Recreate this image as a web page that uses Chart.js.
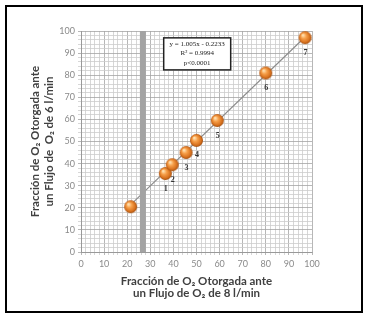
<!DOCTYPE html>
<html>
<head>
<meta charset="utf-8">
<script src="https://cdn.jsdelivr.net/npm/chart.js@4"></script>
<style>
  body { margin: 0; background: #fff; }
  #wrap { position: relative; width: 369px; height: 320px; }
  #frame { position: absolute; left: 5px; top: 5px; width: 358px; height: 308px; border: 2px solid #000; box-sizing: border-box; pointer-events: none; }
</style>
</head>
<body>
<div id="wrap">
  <canvas id="chart" width="369" height="320"></canvas>
  <div id="frame"></div>
</div>
<script>
// measured points (8 l/min vs 6 l/min)
const pointX = [21.5, 36.5, 39.5, 45.5, 50, 59, 80, 97];
const pointY = [20.5, 35.5, 39.5, 45, 50.5, 59.5, 81, 97];
const pointLabels = ['', '1', '2', '3', '4', '5', '6', '7'];

// fitted line y = 1.005x - 0.2233, end points
const trendX = [21, 98];
const trendY = [20.9, 98.3];

// grey vertical band
const bandX = [26.8, 26.8];
const bandY = [0, 100];

const statLines = ['y = 1.005x - 0.2233', 'R\u00B2 = 0.9994', 'p<0.0001'];

// orange sphere marker
function makeSphere(r) {
    const c = document.createElement('canvas');
    c.width = c.height = Math.ceil(r * 2 + 2);
    const g = c.getContext('2d');
    const cx = c.width / 2, cy = c.height / 2;
    const grad = g.createRadialGradient(cx - r * 0.35, cy - r * 0.4, r * 0.1, cx, cy, r);
    grad.addColorStop(0, '#ffe0b0');
    grad.addColorStop(0.35, '#f7a04a');
    grad.addColorStop(0.8, '#d66f1c');
    grad.addColorStop(1, '#9c4a0c');
    g.fillStyle = grad;
    g.beginPath();
    g.arc(cx, cy, r, 0, Math.PI * 2);
    g.fill();
    return c;
}
const sphere = makeSphere(6.5);

const toXY = (xs, ys) => xs.map((x, i) => ({ x: x, y: ys[i] }));

const pointLabelPlugin = {
    id: 'pointLabels',
    afterDatasetsDraw(chart) {
        const ctx = chart.ctx;
        const meta = chart.getDatasetMeta(0);
        ctx.save();
        ctx.font = 'bold 8px "Liberation Serif", "DejaVu Serif", serif';
        ctx.fillStyle = '#333';
        ctx.textAlign = 'center';
        ctx.textBaseline = 'middle';
        meta.data.forEach((pt, i) => {
            if (pointLabels[i]) ctx.fillText(pointLabels[i], pt.x + 0.5, pt.y + 15);
        });
        ctx.restore();
    }
};

const statBoxPlugin = {
    id: 'statBox',
    afterDatasetsDraw(chart) {
        const ctx = chart.ctx;
        const xs = chart.scales.x, ys = chart.scales.y;
        const l = xs.getPixelForValue(35.8), r = xs.getPixelForValue(64.8);
        const t = ys.getPixelForValue(96.9), b = ys.getPixelForValue(82.4);
        ctx.save();
        ctx.fillStyle = '#fff';
        ctx.fillRect(l, t, r - l, b - t);
        ctx.strokeStyle = '#222';
        ctx.lineWidth = 1.5;
        ctx.strokeRect(l, t, r - l, b - t);
        ctx.font = '7px "Liberation Serif", "DejaVu Serif", serif';
        ctx.fillStyle = '#222';
        ctx.textAlign = 'center';
        ctx.textBaseline = 'middle';
        const cx = (l + r) / 2;
        statLines.forEach((s, i) => ctx.fillText(s, cx, t + 6.5 + i * 9.2));
        ctx.restore();
    }
};

const gridColor = (c) => (c.tick && c.tick.value % 10 === 0) ? '#a4a4a4' : '#cdcdcd';
const tickText = (v) => (v % 10 === 0 ? v : '');

new Chart(document.getElementById('chart'), {
    type: 'scatter',
    data: {
        datasets: [
            {
                label: 'datos',
                data: toXY(pointX, pointY),
                pointStyle: sphere,
                pointRadius: 6.5,
                showLine: false
            },
            {
                label: 'banda',
                data: toXY(bandX, bandY),
                showLine: true,
                borderColor: '#a3a3a3',
                borderWidth: 6,
                pointRadius: 0
            },
            {
                label: 'ajuste',
                data: toXY(trendX, trendY),
                showLine: true,
                borderColor: '#8c8c8c',
                borderWidth: 1.2,
                pointRadius: 0
            }
        ]
    },
    options: {
        responsive: false,
        animation: false,
        layout: { padding: { left: 0, right: 57, top: 31, bottom: 0 } },
        plugins: {
            legend: { display: false },
            tooltip: { enabled: false }
        },
        scales: {
            x: {
                min: 0,
                max: 100,
                afterFit: (s) => { s.height = 68; },
                ticks: {
                    stepSize: 2,
                    autoSkip: false,
                    maxRotation: 0,
                    padding: 4,
                    color: '#8a8a8a',
                    font: { family: 'Lato', size: 9 },
                    callback: tickText
                },
                grid: { color: gridColor, tickLength: 3, lineWidth: 0.8 },
                border: { color: '#999' },
                title: {
                    display: true,
                    text: ['Fracci\u00F3n de O\u2082 Otorgada ante', 'un Flujo de O\u2082 de 8 l/min'],
                    color: '#404040',
                    font: { family: 'Lato', size: 11.5, weight: 'bold', lineHeight: 1.1 },
                    padding: { top: 0, bottom: 20 }
                }
            },
            y: {
                min: 0,
                max: 100,
                afterFit: (s) => { s.width = 81; },
                ticks: {
                    stepSize: 2,
                    autoSkip: false,
                    padding: 3,
                    color: '#8a8a8a',
                    font: { family: 'Lato', size: 9 },
                    callback: tickText
                },
                grid: { color: gridColor, tickLength: 3, lineWidth: 0.8 },
                border: { color: '#999' },
                title: {
                    display: true,
                    text: ['Fracci\u00F3n de O\u2082 Otorgada ante', 'un Flujo de  O\u2082 de 6 l/min'],
                    color: '#404040',
                    font: { family: 'Lato', size: 11.5, weight: 'bold', lineHeight: 1.15 },
                    padding: { top: 29, bottom: 0 }
                }
            }
        }
    },
    plugins: [statBoxPlugin, pointLabelPlugin]
});
</script>
</body>
</html>
